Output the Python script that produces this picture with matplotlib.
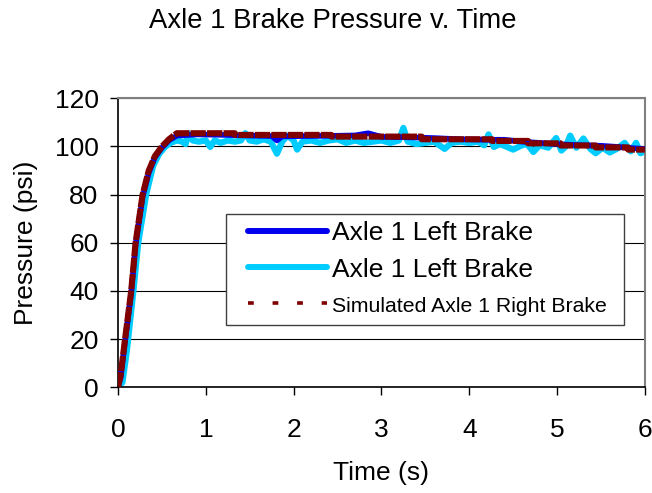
import matplotlib
matplotlib.use('Agg')
import matplotlib.pyplot as plt
from matplotlib.lines import Line2D
from matplotlib.patches import Rectangle

plt.rcParams['font.family'] = ['Liberation Sans', 'DejaVu Sans']

# simulated right brake (stepped model output)
sim_t = [0.0, 0.03, 0.08, 0.15, 0.2, 0.28, 0.35, 0.42, 0.5, 0.58, 0.67,
         1.33, 1.33, 2.43, 2.43, 3.46, 3.46, 4.26, 4.26, 4.67, 4.67,
         5.04, 5.04, 5.44, 5.44, 5.81, 5.81, 6.0]
sim_p = [0.0, 5, 20, 40, 60, 80, 90, 96, 100, 103, 105.5,
         105.5, 104.8, 104.8, 104.1, 104.1, 103.0, 103.0, 102.3, 102.3, 101.3,
         101.3, 100.4, 100.4, 99.6, 99.6, 98.7, 98.7]

# measured left brake (dark blue)
left_t = [0.0, 0.03, 0.08, 0.15, 0.2, 0.28, 0.35, 0.42, 0.5, 0.58, 0.67,
          0.9, 1.2, 1.5, 1.75, 1.81, 1.87, 2.1, 2.4, 2.7, 2.85, 3.0,
          3.3, 3.6, 3.9, 4.2, 4.4, 4.6, 4.8, 5.0, 5.2, 5.5, 5.7, 5.9, 6.0]
left_p = [0.0, 4, 19, 39, 59, 79, 89, 95.5, 99.5, 102.5, 104.5,
          105, 104.8, 104.5, 104.3, 102.5, 104.2, 104.3, 104.4, 104.6, 105.5, 104,
          103.8, 103.5, 103, 102.8, 102.8, 102, 101.5, 101.0, 100.6, 100.3, 99.8, 99.2, 99.0]

# measured second brake (light blue, noisy)
right_t = [0.0, 0.05, 0.1, 0.175, 0.23, 0.32, 0.4, 0.47, 0.54, 0.6, 0.67,
           0.73, 0.77, 0.8, 0.85, 0.92, 1.0, 1.05, 1.1, 1.17, 1.25, 1.33,
           1.4, 1.45, 1.5, 1.58, 1.66, 1.74, 1.81, 1.87, 1.93, 2.0, 2.04,
           2.1, 2.2, 2.3, 2.4, 2.5, 2.6, 2.7, 2.8, 2.9, 3.0, 3.1, 3.2,
           3.25, 3.3, 3.4, 3.5, 3.6, 3.72, 3.8, 3.9, 4.0, 4.1, 4.17,
           4.22, 4.28, 4.35, 4.42, 4.5, 4.6, 4.66, 4.73, 4.8, 4.9, 4.99,
           5.05, 5.1, 5.15, 5.22, 5.3, 5.38, 5.44, 5.52, 5.6, 5.68, 5.77,
           5.84, 5.9, 5.95, 6.0]
right_p = [0.0, 2, 15, 40, 60, 80, 92, 97, 100, 101.5, 102.5,
           102, 101, 105.5, 102.5, 102, 102.5, 99.8, 102.5, 101.5, 102.5, 102,
           102.5, 105.5, 102.5, 102, 103, 102, 97, 102, 104.5, 102.5, 98.7,
           102, 102.5, 101.5, 102.5, 103, 101.5, 102.5, 101.5, 102, 102.5, 101.5, 102.5,
           107.7, 102, 101, 101.5, 102, 99, 101.5, 102, 101.5, 102, 100.5,
           105, 99.8, 101, 100, 98.7, 100.5, 101, 97.7, 100.5, 99.5, 103.5,
           98.3, 100, 104.5, 99.5, 103.3, 99, 97.2, 99.5, 97.5, 99, 101.5,
           98, 101.5, 97.2, 98]

fig = plt.figure(figsize=(6.52, 4.93), dpi=100)
ax = fig.add_axes([0.181, 0.2144, 0.808, 0.5862])

ax.plot(right_t, right_p, color='#00CCFF', lw=4.5, solid_capstyle='round',
        solid_joinstyle='round', zorder=2)
ax.plot(left_t, left_p, color='#0000EE', lw=4.0, solid_capstyle='round',
        solid_joinstyle='round', zorder=3)
ax.plot(sim_t, sim_p, color='#800000', lw=4.4, dashes=(2.5, 0.2), zorder=4)

ax.set_xlim(0, 6)
ax.set_ylim(0, 120)
ax.set_xticks(range(0, 7))
ax.set_yticks(range(0, 121, 20))
ax.yaxis.grid(True, color='black', lw=0.8)
ax.set_axisbelow(True)
for s in ['top', 'right']:
    ax.spines[s].set_color('#808080')
    ax.spines[s].set_linewidth(1.5)
ax.spines['left'].set_linewidth(1.2)
ax.spines['bottom'].set_linewidth(1.2)
ax.tick_params(axis='both', direction='out', length=6, width=1, labelsize=19, pad=8)
ax.tick_params(axis='x', pad=16)

ax.set_xlabel('Time (s)', fontsize=19, labelpad=14)
ax.set_ylabel('Pressure (psi)', fontsize=19, labelpad=12)
fig.text(0.511, 0.957, 'Axle 1 Brake Pressure v. Time', fontsize=19.8,
         ha='center', va='center')

# legend frame drawn separately so the entries can sit inset from it
box = Rectangle((0.205, 0.2156), 0.755, 0.383, transform=ax.transAxes,
                facecolor='white', edgecolor='#404040', lw=1.0, zorder=9)
ax.add_patch(box)

handles = [Line2D([], [], color='#0000EE', lw=4.3, solid_capstyle='round'),
           Line2D([], [], color='#00CCFF', lw=4.3, solid_capstyle='round'),
           Line2D([], [], color='#800000', lw=2.6, dashes=(1.6, 5.2))]
labels = ['Axle 1 Left Brake', 'Axle 1 Left Brake', 'Simulated Axle 1 Right Brake']
leg = ax.legend(handles, labels, loc='upper left', bbox_to_anchor=(0.2467, 0.575),
                borderaxespad=0, borderpad=0, frameon=False, fontsize=19,
                handlelength=3.0, handletextpad=0.2, labelspacing=0.47)
leg.get_texts()[2].set_fontsize(15.3)
leg.set_zorder(10)

fig.savefig('out.png', dpi=100)
